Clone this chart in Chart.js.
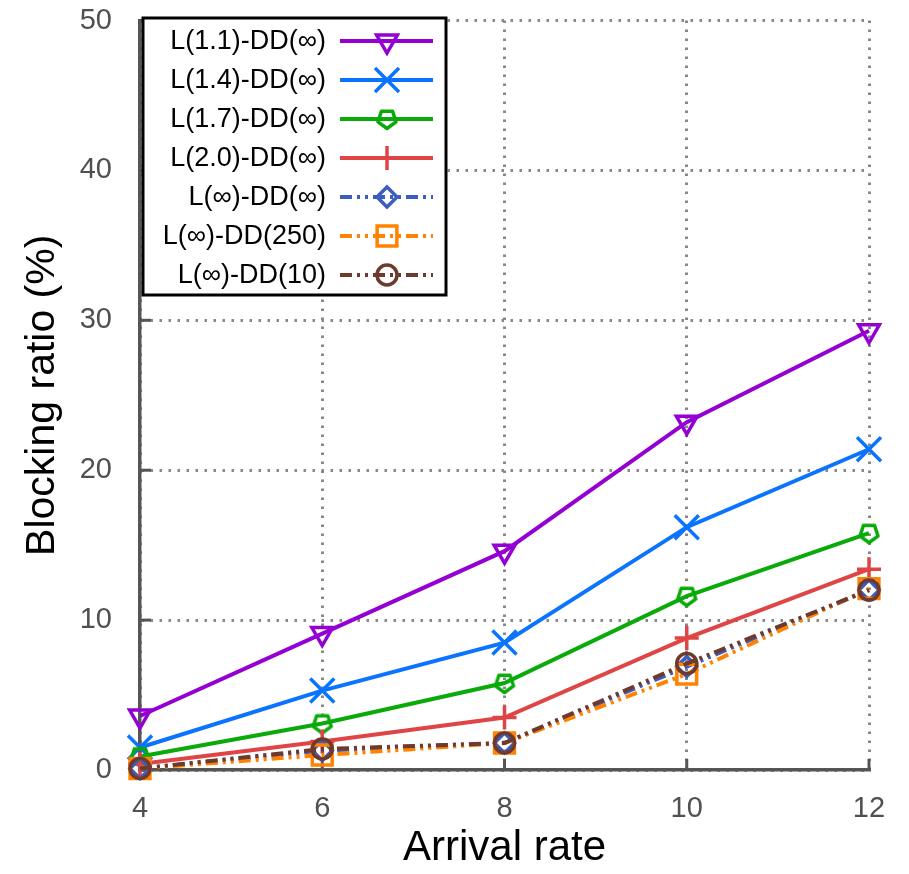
<!DOCTYPE html>
<html>
<head>
<meta charset="utf-8">
<script src="https://cdn.jsdelivr.net/npm/chart.js@4/dist/chart.umd.min.js"></script>
<style>
  html, body { margin: 0; padding: 0; background: #fff; }
  #wrap { width: 909px; height: 874px; }
</style>
</head>
<body>
<div id="wrap"><canvas id="chart" width="909" height="874"></canvas></div>
<script>
// Data
const arrivalRates = [4, 6, 8, 10, 12];
const seriesNames = [
  'L(1.1)-DD(\u221e)', 'L(1.4)-DD(\u221e)', 'L(1.7)-DD(\u221e)', 'L(2.0)-DD(\u221e)',
  'L(\u221e)-DD(\u221e)', 'L(\u221e)-DD(250)', 'L(\u221e)-DD(10)'
];
const l11 = [3.6, 9.1, 14.6, 23.2, 29.3];
const l14 = [1.5, 5.3, 8.5, 16.2, 21.4];
const l17 = [0.9, 3.1, 5.8, 11.6, 15.8];
const l20 = [0.4, 1.9, 3.5, 8.8, 13.4];
const lInfDDInf = [0.1, 1.3, 1.8, 6.9, 12.0];
const lInfDD250 = [0.1, 1.0, 1.8, 6.4, 12.1];
const lInfDD10 = [0.1, 1.4, 1.8, 7.1, 12.0];
const yTicks = [0, 10, 20, 30, 40, 50];
const xTicks = [4, 6, 8, 10, 12];

const FONT = "'Liberation Sans', Arial, sans-serif";

// hollow pentagon marker (no built-in style for it)
function pentagon(color) {
  const c = document.createElement('canvas');
  c.width = 24; c.height = 24;
  const g = c.getContext('2d');
  g.strokeStyle = color;
  g.lineWidth = 3.5;
  g.lineJoin = 'round';
  g.beginPath();
  for (let i = 0; i < 5; i++) {
    const a = Math.PI / 2 + i * 2 * Math.PI / 5;
    const px = 12 + 9.5 * Math.cos(a), py = 12 + 9.5 * Math.sin(a);
    if (i === 0) g.moveTo(px, py); else g.lineTo(px, py);
  }
  g.closePath();
  g.stroke();
  return c;
}

const dashDotDot = [12, 5, 3, 5, 3, 5];
const styles = [
  { color: '#9400d3', point: 'triangle', r: 12, rot: 180, dash: [] },
  { color: '#0a74ff', point: 'crossRot', r: 17, rot: 0, dash: [] },
  { color: '#0aaa0a', point: pentagon('#0aaa0a'), r: 12, rot: 0, dash: [] },
  { color: '#e04545', point: 'cross', r: 12, rot: 0, dash: [] },
  { color: '#3d5cc0', point: 'rectRot', r: 10, rot: 0, dash: dashDotDot },
  { color: '#ff8200', point: 'rect', r: 14, rot: 0, dash: dashDotDot },
  { color: '#6e3a2e', point: 'circle', r: 10, rot: 0, dash: dashDotDot }
];
const allSeries = [l11, l14, l17, l20, lInfDDInf, lInfDD250, lInfDD10];

const datasets = allSeries.map((vals, i) => ({
  label: seriesNames[i],
  data: vals.map((v, k) => ({ x: arrivalRates[k], y: v })),
  borderColor: styles[i].color,
  backgroundColor: 'transparent',
  borderWidth: 4,
  borderDash: styles[i].dash,
  pointStyle: styles[i].point,
  pointRotation: styles[i].rot,
  pointRadius: styles[i].r,
  pointBorderWidth: 3.5,
  pointBorderColor: styles[i].color,
  pointBackgroundColor: 'transparent',
  tension: 0,
  clip: false,
  order: allSeries.length - i
}));

// gnuplot-like inward tick marks
const innerTicks = {
  id: 'innerTicks',
  beforeDatasetsDraw(chart) {
    const { ctx, chartArea, scales } = chart;
    ctx.save();
    ctx.strokeStyle = '#555';
    ctx.lineWidth = 3;
    yTicks.forEach(v => {
      const y = scales.y.getPixelForValue(v);
      ctx.beginPath(); ctx.moveTo(chartArea.left, y); ctx.lineTo(chartArea.left + 11, y); ctx.stroke();
    });
    xTicks.forEach(v => {
      const x = scales.x.getPixelForValue(v);
      ctx.beginPath(); ctx.moveTo(x, chartArea.bottom); ctx.lineTo(x, chartArea.bottom - 11); ctx.stroke();
    });
    ctx.restore();
  }
};

// legend box in the top-left of the plot
const boxLegend = {
  id: 'boxLegend',
  afterDraw(chart) {
    const ctx = chart.ctx;
    ctx.save();
    ctx.fillStyle = '#fff';
    ctx.fillRect(143, 18, 303, 277);
    ctx.strokeStyle = '#000';
    ctx.lineWidth = 3;
    ctx.strokeRect(143, 18, 303, 277);
    ctx.font = '27px ' + FONT;
    ctx.textAlign = 'right';
    ctx.textBaseline = 'middle';
    chart.data.datasets.forEach((ds, i) => {
      const y = 41 + i * 39;
      ctx.fillStyle = '#000';
      ctx.fillText(ds.label, 326, y + 1);
      ctx.strokeStyle = ds.borderColor;
      ctx.lineWidth = 4;
      ctx.setLineDash(ds.borderDash);
      ctx.beginPath(); ctx.moveTo(340, y); ctx.lineTo(433, y); ctx.stroke();
      ctx.setLineDash([]);
      ctx.lineWidth = 3.5;
      ctx.fillStyle = 'rgba(0,0,0,0)';
      Chart.helpers.drawPoint(ctx, {
        pointStyle: ds.pointStyle, radius: ds.pointRadius, rotation: ds.pointRotation, borderWidth: 3.5
      }, 387, y);
    });
    ctx.restore();
  }
};

const ctx = document.getElementById('chart').getContext('2d');
const chart = new Chart(ctx, {
  type: 'line',
  data: { datasets: datasets },
  options: {
    responsive: false,
    animation: false,
    layout: { padding: { top: 15, right: 40, left: 0, bottom: 0 } },
    plugins: { legend: { display: false }, tooltip: { enabled: false } },
    scales: {
      x: {
        type: 'linear', min: 4, max: 12,
        afterBuildTicks: s => { s.ticks = xTicks.map(v => ({ value: v })); },
        afterFit: s => { s.height = 104; s.paddingLeft = 0; s.paddingRight = 0; },
        grid: { color: '#888', lineWidth: 3, drawTicks: false },
        border: { color: '#555', width: 3.5, dash: [2.5, 6.5] },
        ticks: { font: { size: 29, family: FONT }, color: '#505050', padding: 22 },
        title: { display: true, text: 'Arrival rate', color: '#000',
                 font: { size: 42, family: FONT }, padding: { top: 0, bottom: 0 } }
      },
      y: {
        min: 0, max: 50,
        afterBuildTicks: s => { s.ticks = yTicks.map(v => ({ value: v })); },
        afterFit: s => { s.width = 140; s.paddingTop = 0; s.paddingBottom = 0; },
        grid: { color: '#888', lineWidth: 3, drawTicks: false },
        border: { color: '#555', width: 3.5, dash: [2.5, 6.5] },
        ticks: { font: { size: 29, family: FONT }, color: '#505050', padding: 28 },
        title: { display: true, text: 'Blocking ratio (%)', color: '#000',
                 font: { size: 41, family: FONT }, padding: { top: 18, bottom: 0 } }
      }
    }
  },
  plugins: [innerTicks, boxLegend]
});
</script>
</body>
</html>
